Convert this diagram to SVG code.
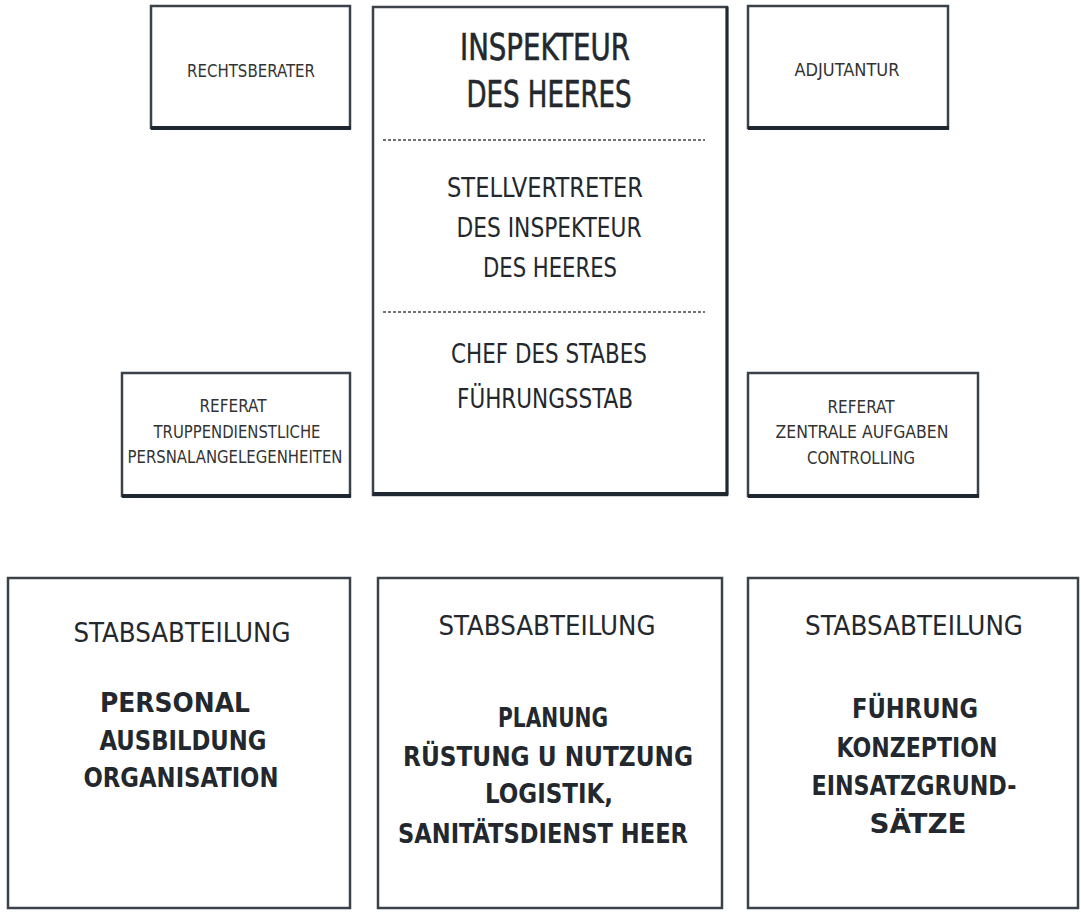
<svg xmlns="http://www.w3.org/2000/svg" width="1081" height="919" viewBox="0 0 1081 919">
<style>
.box{fill:#fff;stroke:#3c4249;stroke-width:2.5}
.shadow{stroke:#1f2731;stroke-width:4;fill:none}
.dash{stroke:#444;stroke-width:1.5;stroke-dasharray:3 2;fill:none}
text{font-family:"DejaVu Sans Condensed","Liberation Sans Narrow","DejaVu Sans",sans-serif;fill:#23282e;text-anchor:middle}
.s{font-size:18px;fill:#333}
.m{font-size:27px}
.l{font-size:37px;stroke:#23282e;stroke-width:0.6}
.b{font-size:27px;font-weight:bold}
</style>
<rect width="1081" height="919" fill="#fff"/>
<g id="rechtsberater">
<rect class="box" x="151" y="6" width="199" height="122"/>
<line class="shadow" x1="151" y1="128" x2="351" y2="128"/>
<text class="s" x="251" y="77" textLength="128" lengthAdjust="spacingAndGlyphs">RECHTSBERATER</text>
</g>
<g id="inspekteur">
<rect class="box" x="373" y="7" width="354" height="488"/>
<line class="shadow" x1="373" y1="494" x2="728" y2="494"/>
<line class="shadow" x1="727" y1="7" x2="727" y2="495" style="stroke-width:3"/>
<line class="dash" x1="383" y1="140" x2="705" y2="140"/>
<line class="dash" x1="383" y1="312" x2="705" y2="312"/>
<text class="l" x="545" y="60" textLength="170" lengthAdjust="spacingAndGlyphs">INSPEKTEUR</text>
<text class="l" x="549" y="107" textLength="165" lengthAdjust="spacingAndGlyphs">DES HEERES</text>
<text class="m" x="545" y="197" textLength="196" lengthAdjust="spacingAndGlyphs">STELLVERTRETER</text>
<text class="m" x="549" y="237" textLength="185" lengthAdjust="spacingAndGlyphs">DES INSPEKTEUR</text>
<text class="m" x="550" y="277" textLength="134" lengthAdjust="spacingAndGlyphs">DES HEERES</text>
<text class="m" x="549" y="363" textLength="196" lengthAdjust="spacingAndGlyphs">CHEF DES STABES</text>
<text class="m" x="545" y="408" textLength="176" lengthAdjust="spacingAndGlyphs">FÜHRUNGSSTAB</text>
</g>
<g id="adjutantur">
<rect class="box" x="748" y="6" width="200" height="122"/>
<line class="shadow" x1="748" y1="128" x2="949" y2="128"/>
<text class="s" x="847" y="76" textLength="105" lengthAdjust="spacingAndGlyphs">ADJUTANTUR</text>
</g>
<g id="referat-personal">
<rect class="box" x="122" y="373" width="228" height="123"/>
<line class="shadow" x1="122" y1="496" x2="351" y2="496"/>
<text class="s" x="233" y="412" textLength="67" lengthAdjust="spacingAndGlyphs">REFERAT</text>
<text class="s" x="237" y="438" textLength="167" lengthAdjust="spacingAndGlyphs">TRUPPENDIENSTLICHE</text>
<text class="s" x="235" y="463" textLength="215" lengthAdjust="spacingAndGlyphs">PERSNALANGELEGENHEITEN</text>
</g>
<g id="referat-zentral">
<rect class="box" x="748" y="373" width="230" height="123"/>
<line class="shadow" x1="748" y1="496" x2="979" y2="496"/>
<text class="s" x="861" y="413" textLength="67" lengthAdjust="spacingAndGlyphs">REFERAT</text>
<text class="s" x="862" y="438" textLength="173" lengthAdjust="spacingAndGlyphs">ZENTRALE  AUFGABEN</text>
<text class="s" x="861" y="464" textLength="108" lengthAdjust="spacingAndGlyphs">CONTROLLING</text>
</g>
<g id="stab-personal">
<rect class="box" x="8" y="578" width="342" height="330"/>
<text class="m" x="182" y="642" textLength="217" lengthAdjust="spacingAndGlyphs">STABSABTEILUNG</text>
<text class="b" x="175" y="712" textLength="150" lengthAdjust="spacingAndGlyphs">PERSONAL</text>
<text class="b" x="183" y="750" textLength="167" lengthAdjust="spacingAndGlyphs">AUSBILDUNG</text>
<text class="b" x="181" y="787" textLength="195" lengthAdjust="spacingAndGlyphs">ORGANISATION</text>
</g>
<g id="stab-planung">
<rect class="box" x="378" y="578" width="344" height="330"/>
<text class="m" x="547" y="635" textLength="217" lengthAdjust="spacingAndGlyphs">STABSABTEILUNG</text>
<text class="b" x="553" y="727" textLength="110" lengthAdjust="spacingAndGlyphs">PLANUNG</text>
<text class="b" x="548" y="766" textLength="290" lengthAdjust="spacingAndGlyphs">RÜSTUNG U NUTZUNG</text>
<text class="b" x="549" y="803" textLength="128" lengthAdjust="spacingAndGlyphs">LOGISTIK,</text>
<text class="b" x="543" y="843" textLength="290" lengthAdjust="spacingAndGlyphs">SANITÄTSDIENST HEER</text>
</g>
<g id="stab-fuehrung">
<rect class="box" x="748" y="578" width="330" height="330"/>
<text class="m" x="914" y="635" textLength="218" lengthAdjust="spacingAndGlyphs">STABSABTEILUNG</text>
<text class="b" x="915" y="718" textLength="126" lengthAdjust="spacingAndGlyphs">FÜHRUNG</text>
<text class="b" x="917" y="757" textLength="161" lengthAdjust="spacingAndGlyphs">KONZEPTION</text>
<text class="b" x="914" y="795" textLength="205" lengthAdjust="spacingAndGlyphs">EINSATZGRUND-</text>
<text class="b" x="918" y="833" textLength="97" lengthAdjust="spacingAndGlyphs">SÄTZE</text>
</g>
<g id="connectors"></g>
</svg>
